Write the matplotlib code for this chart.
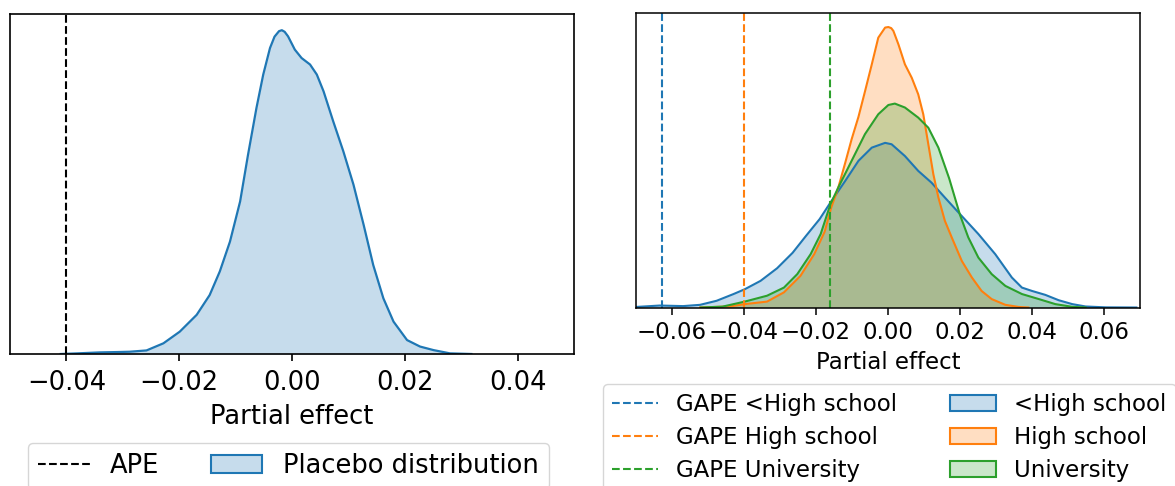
import numpy as np
import matplotlib
matplotlib.use("Agg")
import matplotlib.pyplot as plt
from matplotlib.lines import Line2D
from matplotlib.patches import Patch

# ---- data (relative density, peak-normalised) ----
placebo_x = [-0.0410, -0.0380, -0.0340, -0.0310, -0.0288, -0.0258, -0.0228, -0.0199, -0.0169,
             -0.0146, -0.0128, -0.0110, -0.0092, -0.0078, -0.0063, -0.0051, -0.0039,
             -0.0031, -0.0023, -0.0018, -0.0013, -0.0007, 0.0005, 0.0017, 0.0032, 0.0044, 0.0056,
             0.0073, 0.0091, 0.0109, 0.0127, 0.0144, 0.0162, 0.0180, 0.0204,
             0.0227, 0.0251, 0.0280, 0.0318]
placebo_y = [0.0, 0.002, 0.005, 0.006, 0.007, 0.011, 0.033, 0.069, 0.121,
             0.182, 0.255, 0.347, 0.471, 0.615, 0.760, 0.863, 0.945,
             0.980, 0.997, 1.000, 0.995, 0.981, 0.940, 0.914, 0.894, 0.863, 0.811,
             0.719, 0.626, 0.523, 0.399, 0.275, 0.172, 0.100, 0.043,
             0.023, 0.012, 0.002, 0.0]
ape_value = -0.040

lhs_x = [-0.0699, -0.0634, -0.0569, -0.0522, -0.0476, -0.0429, -0.0398, -0.0354, -0.0308,
         -0.0265, -0.0228, -0.0190, -0.0160, -0.0119, -0.0082, -0.0045, -0.0008,
         0.0010, 0.0047, 0.0084, 0.0121, 0.0158, 0.0200, 0.0251, 0.0298,
         0.0344, 0.0372, 0.0400, 0.0437, 0.0474, 0.0512, 0.0549, 0.0605, 0.0690]
lhs_y = [0.002, 0.007, 0.005, 0.0095, 0.024, 0.048, 0.065, 0.095, 0.140,
         0.195, 0.255, 0.315, 0.374, 0.451, 0.523, 0.570, 0.587,
         0.582, 0.540, 0.487, 0.445, 0.392, 0.333, 0.262, 0.190,
         0.107, 0.071, 0.059, 0.045, 0.026, 0.012, 0.0036, 0.0005, 0.0]

hs_x = [-0.0522, -0.0438, -0.0398, -0.0336, -0.0289, -0.0243, -0.0205, -0.0176, -0.0158,
        -0.0138, -0.0119, -0.0101, -0.0082, -0.0064, -0.0045, -0.0027, -0.0008,
        0.0001, 0.0009, 0.0015, 0.0029, 0.0047, 0.0066, 0.0084, 0.0098, 0.0112,
        0.0126, 0.0140, 0.0158, 0.0177, 0.0205, 0.0233, 0.0260, 0.0288,
        0.0326, 0.0363, 0.0390]
hs_y = [0.0, 0.004, 0.012, 0.021, 0.054, 0.113, 0.190, 0.270, 0.355,
        0.428, 0.515, 0.600, 0.680, 0.770, 0.867, 0.962, 0.998,
        1.000, 0.996, 0.986, 0.938, 0.867, 0.819, 0.760, 0.689, 0.582,
        0.475, 0.392, 0.309, 0.250, 0.166, 0.107, 0.059, 0.030,
        0.0095, 0.002, 0.0]

uni_x = [-0.0520, -0.0460, -0.0429, -0.0398, -0.0336, -0.0289, -0.0252, -0.0215, -0.0187,
         -0.0160, -0.0138, -0.0101, -0.0064, -0.0027, 0.0001, 0.0019, 0.0047,
         0.0084, 0.0112, 0.0140, 0.0170, 0.0200, 0.0223, 0.0251, 0.0288,
         0.0326, 0.0372, 0.0419, 0.0465, 0.0512, 0.0549]
uni_y = [0.0, 0.003, 0.012, 0.021, 0.042, 0.071, 0.119, 0.190, 0.262,
         0.368, 0.428, 0.523, 0.618, 0.689, 0.722, 0.727, 0.713,
         0.677, 0.641, 0.570, 0.460, 0.330, 0.250, 0.178, 0.119,
         0.077, 0.048, 0.030, 0.012, 0.0024, 0.0]

gape_values = [-0.0629, -0.0400, -0.0160]
group_names = ["<High school", "High school", "University"]
colors = ["#1f77b4", "#ff7f0e", "#2ca02c"]

W, H = 1175, 486
fig = plt.figure(figsize=(W / 100, H / 100), dpi=100)

# ---------------- left panel ----------------
ax1 = fig.add_axes([10 / W, 1 - 354 / H, 564 / W, 340 / H])
ax1.fill_between(placebo_x, placebo_y, color=colors[0], alpha=0.25, linewidth=0)
ax1.plot(placebo_x, placebo_y, color=colors[0], lw=1.6)
ax1.axvline(ape_value, color="black", ls="--", lw=1.5)
ax1.set_xlim(-0.05, 0.05)
ax1.set_ylim(0, max(placebo_y) * 1.05)
ax1.set_yticks([])
ax1.set_xticks([-0.04, -0.02, 0.0, 0.02, 0.04])
ax1.tick_params(axis="x", labelsize=18.5, length=5.3, width=1.2, pad=6)
for s in ax1.spines.values():
    s.set_linewidth(1.2)
ax1.set_xlabel("Partial effect", fontsize=18.5, labelpad=6)
h1 = [Line2D([], [], color="black", ls="--", lw=1.5),
      Patch(facecolor=matplotlib.colors.to_rgba(colors[0], 0.25), edgecolor=colors[0], lw=1.5)]
fig.legend(h1, ["APE", "Placebo distribution"], ncol=2, fontsize=18.5,
           loc="upper left", bbox_to_anchor=(28 / W, 1 - 443 / H), borderaxespad=0,
           handlelength=2.0, columnspacing=2.0)

# ---------------- right panel ----------------
ax2 = fig.add_axes([636 / W, 1 - 307.5 / H, 504 / W, 294.5 / H])
for xs, ys, c in [(lhs_x, lhs_y, colors[0]), (hs_x, hs_y, colors[1]), (uni_x, uni_y, colors[2])]:
    ax2.fill_between(xs, ys, color=c, alpha=0.25, linewidth=0)
    ax2.plot(xs, ys, color=c, lw=1.5)
for g, c in zip(gape_values, colors):
    ax2.axvline(g, color=c, ls="--", lw=1.5)
ax2.set_xlim(-0.07, 0.07)
ax2.set_ylim(0, 1.05)
ax2.set_yticks([])
ax2.set_xticks([-0.06, -0.04, -0.02, 0.0, 0.02, 0.04, 0.06])
ax2.tick_params(axis="x", labelsize=16.5, length=4.8, width=1.1, pad=5)
for s in ax2.spines.values():
    s.set_linewidth(1.1)
ax2.set_xlabel("Partial effect", fontsize=16.5, labelpad=5)

h2 = [Line2D([], [], color=c, ls="--", lw=1.5) for c in colors]
h2 += [Patch(facecolor=matplotlib.colors.to_rgba(c, 0.25), edgecolor=c, lw=1.5) for c in colors]
labels2 = ["GAPE " + n for n in group_names] + group_names
fig.legend(h2, labels2, ncol=2, fontsize=16.5,
           loc="upper left", bbox_to_anchor=(603 / W, 1 - 384 / H), borderaxespad=0,
           handlelength=2.0, columnspacing=2.3, labelspacing=0.43)

fig.savefig("out.png", dpi=100)
